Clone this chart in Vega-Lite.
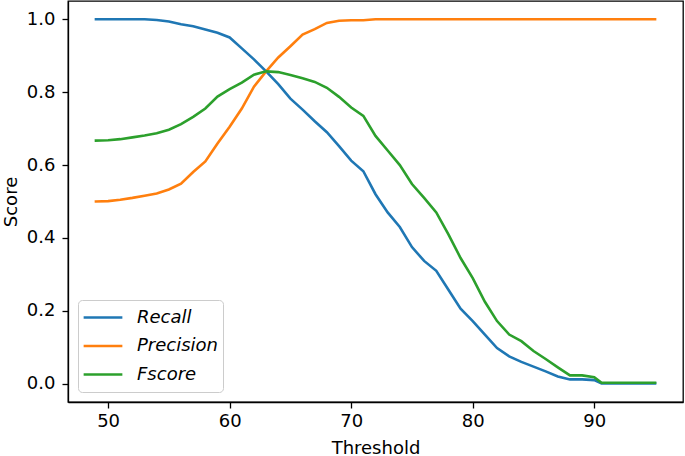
{
  "$schema": "https://vega.github.io/schema/vega-lite/v6.json",
  "width": 615,
  "height": 401,
  "autosize": {"type": "none"},
  "padding": {"left": 68, "top": 1, "right": 2, "bottom": 54},
  "background": "white",
  "config": {
    "font": "DejaVu Sans",
    "view": {"stroke": "black", "strokeWidth": 1.3},
    "axis": {
      "grid": false,
      "domainColor": "black",
      "domainWidth": 1.3,
      "tickColor": "black",
      "tickWidth": 1.3,
      "tickSize": 6,
      "labelColor": "black",
      "labelFont": "DejaVu Sans",
      "labelFontSize": 18,
      "titleFont": "DejaVu Sans",
      "titleFontSize": 18,
      "titleFontWeight": "normal",
      "titleColor": "black"
    }
  },
  "data": {
    "values": [
      {"t": 49, "Recall": 1.0, "Precision": 0.500, "Fscore": 0.667},
      {"t": 50, "Recall": 1.0, "Precision": 0.501, "Fscore": 0.668},
      {"t": 51, "Recall": 1.0, "Precision": 0.505, "Fscore": 0.671},
      {"t": 52, "Recall": 1.0, "Precision": 0.510, "Fscore": 0.676},
      {"t": 53, "Recall": 1.0, "Precision": 0.516, "Fscore": 0.681},
      {"t": 54, "Recall": 0.998, "Precision": 0.522, "Fscore": 0.687},
      {"t": 55, "Recall": 0.994, "Precision": 0.533, "Fscore": 0.697},
      {"t": 56, "Recall": 0.986, "Precision": 0.549, "Fscore": 0.712},
      {"t": 57, "Recall": 0.981, "Precision": 0.581, "Fscore": 0.732},
      {"t": 58, "Recall": 0.972, "Precision": 0.610, "Fscore": 0.755},
      {"t": 59, "Recall": 0.963, "Precision": 0.659, "Fscore": 0.788},
      {"t": 60, "Recall": 0.950, "Precision": 0.705, "Fscore": 0.808},
      {"t": 61, "Recall": 0.920, "Precision": 0.755, "Fscore": 0.826},
      {"t": 62, "Recall": 0.890, "Precision": 0.815, "Fscore": 0.848},
      {"t": 63, "Recall": 0.857, "Precision": 0.857, "Fscore": 0.857},
      {"t": 64, "Recall": 0.822, "Precision": 0.895, "Fscore": 0.855},
      {"t": 65, "Recall": 0.782, "Precision": 0.926, "Fscore": 0.847},
      {"t": 66, "Recall": 0.752, "Precision": 0.958, "Fscore": 0.838},
      {"t": 67, "Recall": 0.720, "Precision": 0.973, "Fscore": 0.828},
      {"t": 68, "Recall": 0.690, "Precision": 0.990, "Fscore": 0.812},
      {"t": 69, "Recall": 0.652, "Precision": 0.996, "Fscore": 0.787},
      {"t": 70, "Recall": 0.612, "Precision": 0.997, "Fscore": 0.758},
      {"t": 71, "Recall": 0.583, "Precision": 0.997, "Fscore": 0.735},
      {"t": 72, "Recall": 0.520, "Precision": 1.0, "Fscore": 0.680},
      {"t": 73, "Recall": 0.470, "Precision": 1.0, "Fscore": 0.640},
      {"t": 74, "Recall": 0.430, "Precision": 1.0, "Fscore": 0.600},
      {"t": 75, "Recall": 0.375, "Precision": 1.0, "Fscore": 0.548},
      {"t": 76, "Recall": 0.337, "Precision": 1.0, "Fscore": 0.510},
      {"t": 77, "Recall": 0.310, "Precision": 1.0, "Fscore": 0.470},
      {"t": 78, "Recall": 0.258, "Precision": 1.0, "Fscore": 0.410},
      {"t": 79, "Recall": 0.206, "Precision": 1.0, "Fscore": 0.345},
      {"t": 80, "Recall": 0.172, "Precision": 1.0, "Fscore": 0.290},
      {"t": 81, "Recall": 0.135, "Precision": 1.0, "Fscore": 0.225},
      {"t": 82, "Recall": 0.098, "Precision": 1.0, "Fscore": 0.172},
      {"t": 83, "Recall": 0.075, "Precision": 1.0, "Fscore": 0.135},
      {"t": 84, "Recall": 0.060, "Precision": 1.0, "Fscore": 0.117},
      {"t": 85, "Recall": 0.047, "Precision": 1.0, "Fscore": 0.090},
      {"t": 86, "Recall": 0.034, "Precision": 1.0, "Fscore": 0.068},
      {"t": 87, "Recall": 0.020, "Precision": 1.0, "Fscore": 0.045},
      {"t": 88, "Recall": 0.012, "Precision": 1.0, "Fscore": 0.023},
      {"t": 89, "Recall": 0.012, "Precision": 1.0, "Fscore": 0.023},
      {"t": 90, "Recall": 0.010, "Precision": 1.0, "Fscore": 0.018},
      {"t": 90.6, "Recall": 0.001, "Precision": 1.0, "Fscore": 0.003},
      {"t": 91, "Recall": 0.001, "Precision": 1.0, "Fscore": 0.003},
      {"t": 92, "Recall": 0.001, "Precision": 1.0, "Fscore": 0.003},
      {"t": 93, "Recall": 0.001, "Precision": 1.0, "Fscore": 0.003},
      {"t": 94, "Recall": 0.001, "Precision": 1.0, "Fscore": 0.003},
      {"t": 95, "Recall": 0.001, "Precision": 1.0, "Fscore": 0.003}
    ]
  },
  "transform": [
    {"fold": ["Recall", "Precision", "Fscore"], "as": ["metric", "score"]}
  ],
  "mark": {"type": "line", "strokeWidth": 2.6, "strokeCap": "square"},
  "encoding": {
    "x": {
      "field": "t",
      "type": "quantitative",
      "title": "Threshold",
      "scale": {"domain": [46.7, 97.3], "nice": false, "zero": false},
      "axis": {"values": [50, 60, 70, 80, 90], "labelPadding": 4, "titlePadding": 9}
    },
    "y": {
      "field": "score",
      "type": "quantitative",
      "title": "Score",
      "scale": {"domain": [-0.05, 1.05], "nice": false, "zero": false},
      "axis": {"values": [0, 0.2, 0.4, 0.6, 0.8, 1.0], "format": ".1f", "labelPadding": 7, "titlePadding": 6}
    },
    "color": {
      "field": "metric",
      "type": "nominal",
      "sort": ["Recall", "Precision", "Fscore"],
      "scale": {"domain": ["Recall", "Precision", "Fscore"], "range": ["#1f77b4", "#ff7f0e", "#2ca02c"]},
      "legend": {
        "title": null,
        "orient": "bottom-left",
        "offset": 10,
        "fillColor": "white",
        "strokeColor": "#cccccc",
        "cornerRadius": 4,
        "padding": 4,
        "symbolType": "stroke",
        "symbolSize": 1500,
        "symbolStrokeWidth": 2.6,
        "labelFont": "DejaVu Sans",
        "labelFontStyle": "italic",
        "labelFontSize": 18,
        "labelColor": "black",
        "labelOffset": 13,
        "clipHeight": 27,
        "rowPadding": 1.5
      }
    }
  }
}
